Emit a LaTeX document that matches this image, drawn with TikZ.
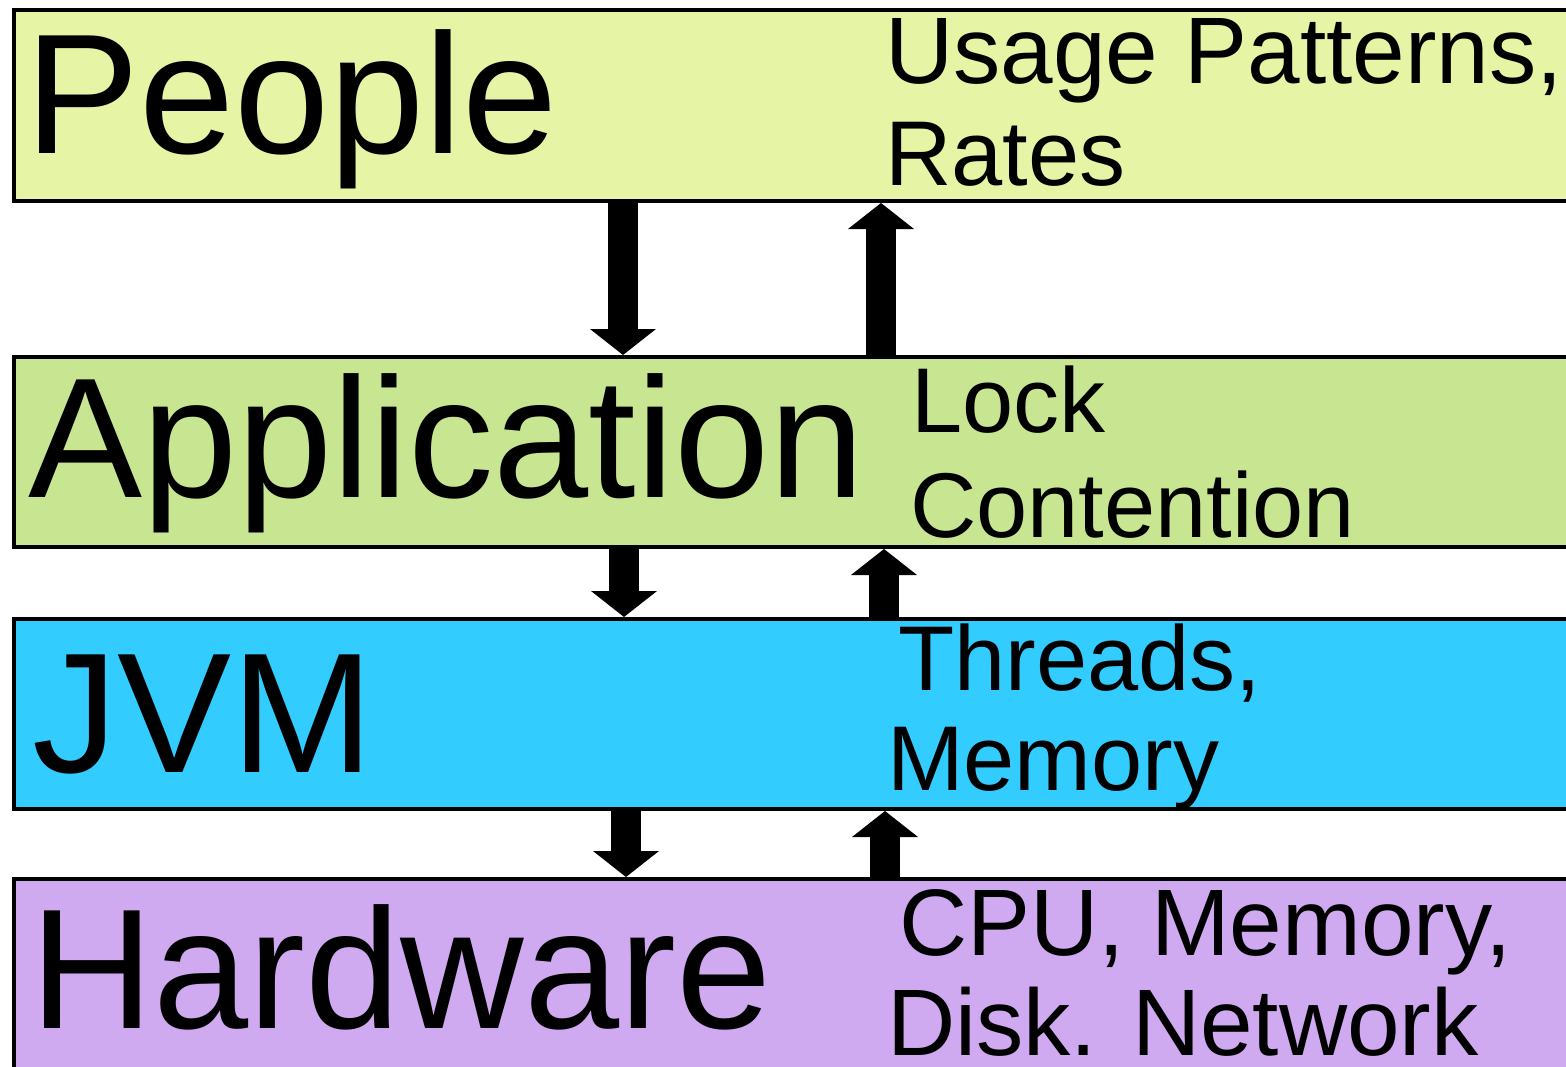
\documentclass[tikz,border=0pt]{standalone}
\usepackage{fontspec}
\setmainfont{Liberation Sans}
\usetikzlibrary{arrows.meta}

\definecolor{peoplefill}{HTML}{E5F5A5}
\definecolor{appfill}{HTML}{C8E691}
\definecolor{jvmfill}{HTML}{33CCFF}
\definecolor{hwfill}{HTML}{CFAAF0}

\begin{document}
\begin{tikzpicture}[x=1pt, y=-1pt,
  layer/.style={draw=black, line width=4pt, rectangle, anchor=north west,
                inner sep=0pt, minimum width=1600pt},
  big/.style={anchor=base west, inner sep=0pt, font=\fontsize{171}{171}\selectfont},
  note/.style={anchor=base west, inner sep=0pt, font=\fontsize{92}{92}\selectfont},
  wide note/.style={note, font=\fontsize{94.5}{94.5}\selectfont},
  flow/.style={line width=30pt, -{Triangle[width=66pt, length=26pt, line width=0pt]}}]
\useasboundingbox (0,0) rectangle (1566,1066);
\clip (0,0) rectangle (1566,1066);

% the four stacked layers
\node[layer, fill=peoplefill, minimum height=191pt] (people) at (12,8)   {};
\node[layer, fill=appfill,    minimum height=190pt] (app)    at (12,355) {};
\node[layer, fill=jvmfill,    minimum height=190pt] (jvm)    at (12,617) {};
\node[layer, fill=hwfill,     minimum height=195pt] (hw)     at (12,877) {};

% requests flow down, feedback flows up
\draw[flow] ([xshift=611pt]people.south west) -- ([xshift=611pt]app.north west);
\draw[flow] ([xshift=869pt]app.north west)    -- ([xshift=869pt]people.south west);
\draw[flow] ([xshift=612pt]app.south west)    -- ([xshift=612pt]jvm.north west);
\draw[flow] ([xshift=872pt]jvm.north west)    -- ([xshift=872pt]app.south west);
\draw[flow] ([xshift=614pt]jvm.south west)    -- ([xshift=614pt]hw.north west);
\draw[flow] ([xshift=873pt]hw.north west)     -- ([xshift=873pt]jvm.south west);

% layer names
\node[big] (peopleName) at (25,153)  {People};
\node[big] (appName)    at (28,497)  {Application};
\node[big] (jvmName)    at (32,772)  {JVM};
\node[big] (hwName)     at (30,1028) {Hardware};

% what each layer contributes
\node[wide note] (peopleNoteA) at (885,83) {Usage Patterns,};
\node[note] (peopleNoteB) at (885,185)  {Rates};
\node[note] (appNoteA)    at (911,432)  {Lock};
\node[note] (appNoteB)    at (910,537)  {Contention};
\node[note] (jvmNoteA)    at (898,690)  {Threads,};
\node[note] (jvmNoteB)    at (887,790)  {Memory};
\node[wide note] (hwNoteA) at (899,955)  {CPU, Memory,};
\node[wide note] (hwNoteB) at (887,1055) {Disk. Network};
\end{tikzpicture}
\end{document}
